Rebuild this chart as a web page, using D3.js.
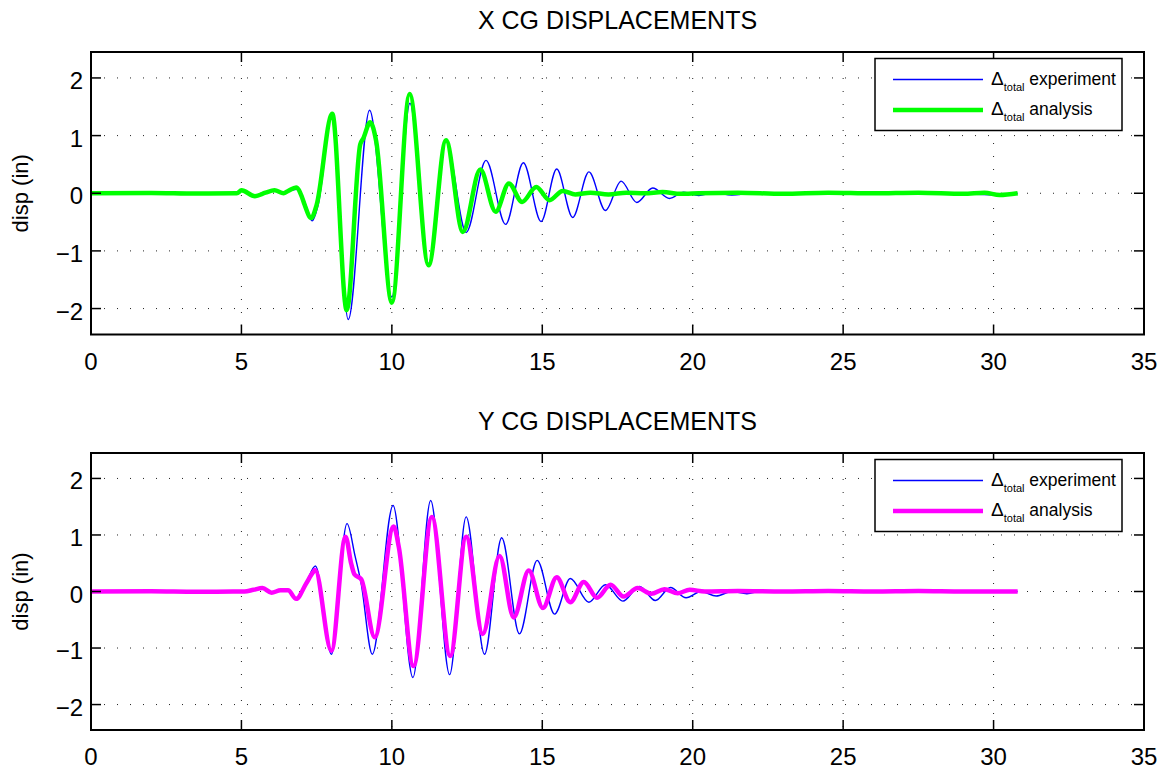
<!DOCTYPE html>
<html><head><meta charset="utf-8">
<script src="https://cdn.jsdelivr.net/npm/d3@7/dist/d3.min.js"></script>
<style>body{margin:0;background:#fff}svg{display:block}text{font-family:"Liberation Sans",Arial,sans-serif}</style>
</head><body><svg id="c" width="1165" height="769"></svg>
<script>
// ---- data ----
const xTicks = [0,5,10,15,20,25,30,35];
const yTicks = [-2,-1,0,1,2];
const titles = ["X CG DISPLACEMENTS","Y CG DISPLACEMENTS"];
const yLabel = "disp (in)";
const legendLabels = ["experiment","analysis"];

// X CG: experiment (blue), [time, disp]
const xExperiment = [[0,0],[2,0.005],[3.5,-0.005],[4.85,0],[5.0,0.05],[5.45,-0.05],[5.8,0.0],[6.1,0.04],[6.35,0.0],[6.6,0.04],[6.85,0.07],[7.1,-0.15],[7.35,-0.48],[7.55,-0.2],[8.02,1.38],[8.55,-2.19],[9.26,1.44],[10.0,-1.8],[10.6,1.56],[11.22,-1.22],[11.8,0.9],[12.47,-0.68],[13.13,0.57],[13.78,-0.54],[14.37,0.53],[14.96,-0.49],[15.48,0.42],[16.01,-0.42],[16.55,0.37],[17.1,-0.3],[17.62,0.21],[18.14,-0.16],[18.67,0.09],[19.23,-0.09],[19.7,0.02],[20.2,-0.04],[20.7,0.01],[21.3,-0.03],[22.0,0.0],[23,-0.01],[24.5,0.01],[26,-0.01],[27.5,0.01],[29,-0.01],[30.2,-0.03],[30.8,0]];
// X CG: analysis (green)
const xAnalysis = [[0,0],[2,0.005],[3.5,-0.005],[4.85,0],[5.0,0.05],[5.45,-0.05],[5.8,0.01],[6.1,0.05],[6.4,0.0],[6.55,0.04],[6.82,0.1],[7.0,-0.05],[7.1,-0.2],[7.32,-0.43],[7.5,-0.2],[8.02,1.38],[8.5,-2.03],[8.95,0.85],[9.05,0.95],[9.28,1.23],[9.48,0.9],[10.0,-1.9],[10.59,1.72],[11.22,-1.25],[11.8,0.92],[12.36,-0.67],[12.94,0.41],[13.45,-0.32],[13.89,0.17],[14.33,-0.15],[14.8,0.11],[15.24,-0.12],[15.68,0.04],[16.1,-0.02],[16.6,0.01],[17.2,-0.02],[17.8,0.01],[18.4,0.0],[19.0,0.02],[19.6,-0.01],[20.2,0.0],[21.5,0.01],[23,-0.01],[24.5,0.01],[26,0.0],[27.5,0.01],[29,-0.01],[29.7,0.01],[30.2,-0.03],[30.8,0]];
// Y CG: experiment (blue)
const yExperiment = [[0,0],[2,0.005],[3.5,-0.005],[4.85,0],[5.1,0.0],[5.4,0.03],[5.7,0.06],[6.0,-0.02],[6.3,0.02],[6.55,0.02],[6.82,-0.13],[7.15,0.15],[7.46,0.45],[7.99,-1.11],[8.51,1.2],[8.78,0.62],[8.98,0.14],[9.35,-1.11],[10.04,1.52],[10.7,-1.52],[11.29,1.61],[11.92,-1.47],[12.47,1.32],[13.08,-1.11],[13.65,0.95],[14.24,-0.75],[14.83,0.55],[15.41,-0.4],[15.93,0.23],[16.55,-0.19],[17.1,0.12],[17.68,-0.17],[18.23,0.09],[18.76,-0.16],[19.26,0.07],[19.78,-0.11],[20.28,0.0],[20.78,-0.08],[21.3,0.0],[21.8,-0.04],[22.3,0.01],[23.5,-0.01],[25,0.01],[26.5,0.0],[28,0.01],[29.5,-0.01],[30.8,0]];
// Y CG: analysis (magenta)
const yAnalysis = [[0,0],[2,0.005],[3.5,-0.005],[4.85,0],[5.1,0.0],[5.4,0.03],[5.7,0.06],[6.0,-0.02],[6.3,0.02],[6.55,0.02],[6.82,-0.13],[7.15,0.14],[7.38,0.34],[7.45,0.38],[7.99,-1.05],[8.46,0.97],[8.65,0.49],[8.76,0.3],[8.98,0.22],[9.43,-0.81],[10.06,1.15],[10.23,0.79],[10.72,-1.32],[11.33,1.32],[11.94,-1.14],[12.47,0.97],[13.02,-0.75],[13.58,0.63],[14.05,-0.46],[14.55,0.37],[15.02,-0.29],[15.48,0.25],[15.93,-0.19],[16.38,0.17],[16.82,-0.11],[17.27,0.12],[17.7,-0.09],[18.17,0.06],[18.62,-0.04],[19.06,0.04],[19.5,-0.03],[19.9,0.03],[20.4,0.0],[21.5,0.01],[23,0.0],[24.5,0.01],[26,0.0],[27.5,0.01],[29,0.0],[30.8,0]];

const panels = [
  {title: titles[0], exp: xExperiment, ana: xAnalysis, anaColor: "#00ff00", top: 52, bottom: 334.5},
  {title: titles[1], exp: yExperiment, ana: yAnalysis, anaColor: "#ff00ff", top: 453, bottom: 730}
];

const svg = d3.select("#c");
const L = 91, R = 1144;

panels.forEach((p, i) => {
  const x = d3.scaleLinear().domain([0,35]).range([L,R]);
  const y = d3.scaleLinear().domain([-2.45,2.45]).range([p.bottom,p.top]);
  const g = svg.append("g");
  const cid = "clip"+i;
  svg.append("clipPath").attr("id",cid).append("rect")
    .attr("x",L).attr("y",p.top).attr("width",R-L).attr("height",p.bottom-p.top);

  // grid
  g.selectAll(".gx").data(xTicks.filter(t=>t>0&&t<35)).join("line")
    .attr("x1",d=>x(d)).attr("x2",d=>x(d)).attr("y1",p.top).attr("y2",p.bottom)
    .attr("stroke","#222").attr("stroke-width",1).attr("stroke-dasharray","1,12");
  g.selectAll(".gy").data(yTicks).join("line")
    .attr("x1",L).attr("x2",R).attr("y1",d=>y(d)).attr("y2",d=>y(d))
    .attr("stroke","#222").attr("stroke-width",1).attr("stroke-dasharray","1,12");

  // lines
  const line = d3.line().x(d=>x(d[0])).y(d=>y(d[1])).curve(d3.curveMonotoneX);
  const lg = g.append("g").attr("clip-path",`url(#${cid})`);
  lg.append("path").attr("d",line(p.exp)).attr("fill","none").attr("stroke","#0000ff").attr("stroke-width",1.4);
  lg.append("path").attr("d",line(p.ana)).attr("fill","none").attr("stroke",p.anaColor).attr("stroke-width",4.5).attr("stroke-linejoin","round");

  // box
  g.append("rect").attr("x",L).attr("y",p.top).attr("width",R-L).attr("height",p.bottom-p.top)
    .attr("fill","none").attr("stroke","#000").attr("stroke-width",2);

  // ticks (inside, all four sides)
  const tl = 10;
  xTicks.forEach(t=>{
    g.append("line").attr("x1",x(t)).attr("x2",x(t)).attr("y1",p.bottom).attr("y2",p.bottom-tl).attr("stroke","#000").attr("stroke-width",1.5);
    g.append("line").attr("x1",x(t)).attr("x2",x(t)).attr("y1",p.top).attr("y2",p.top+tl).attr("stroke","#000").attr("stroke-width",1.5);
    g.append("text").attr("x",x(t)).attr("y",p.bottom+35).attr("text-anchor","middle")
      .attr("font-size",24).text(t);
  });
  yTicks.forEach(t=>{
    g.append("line").attr("x1",L).attr("x2",L+tl).attr("y1",y(t)).attr("y2",y(t)).attr("stroke","#000").attr("stroke-width",1.5);
    g.append("line").attr("x1",R).attr("x2",R-tl).attr("y1",y(t)).attr("y2",y(t)).attr("stroke","#000").attr("stroke-width",1.5);
    g.append("text").attr("x",83).attr("y",y(t)+11).attr("text-anchor","end")
      .attr("font-size",24).text(t<0?"\u2212"+Math.abs(t):t);
  });

  // title
  g.append("text").attr("x",(L+R)/2).attr("y",p.top-23).attr("text-anchor","middle")
    .attr("font-size",25).text(p.title);
  // y label
  const cy = (p.top+p.bottom)/2;
  g.append("text").attr("transform",`translate(28,${cy}) rotate(-90)`).attr("text-anchor","middle")
    .attr("font-size",22).text(yLabel);

  // legend
  const bx = 875, by = p.top+6.5, bw = 247, bh = 72;
  g.append("rect").attr("x",bx).attr("y",by).attr("width",bw).attr("height",bh)
    .attr("fill","#fff").attr("stroke","#000").attr("stroke-width",1.5);
  const items = [{c:"#0000ff",w:1.4,lab:legendLabels[0]},{c:p.anaColor,w:4.5,lab:legendLabels[1]}];
  items.forEach((it,k)=>{
    const ly = by + 21 + k*30.5;
    g.append("line").attr("x1",893).attr("x2",983).attr("y1",ly).attr("y2",ly).attr("stroke",it.c).attr("stroke-width",it.w);
    const t = g.append("text").attr("x",991).attr("y",ly+5).attr("font-size",17.5);
    t.append("tspan").attr("font-size",19).text("\u0394");
    t.append("tspan").attr("font-size",11).attr("dy",6).text("total");
    t.append("tspan").attr("dy",-6).text(" "+it.lab);
  });
});
</script></body></html>
